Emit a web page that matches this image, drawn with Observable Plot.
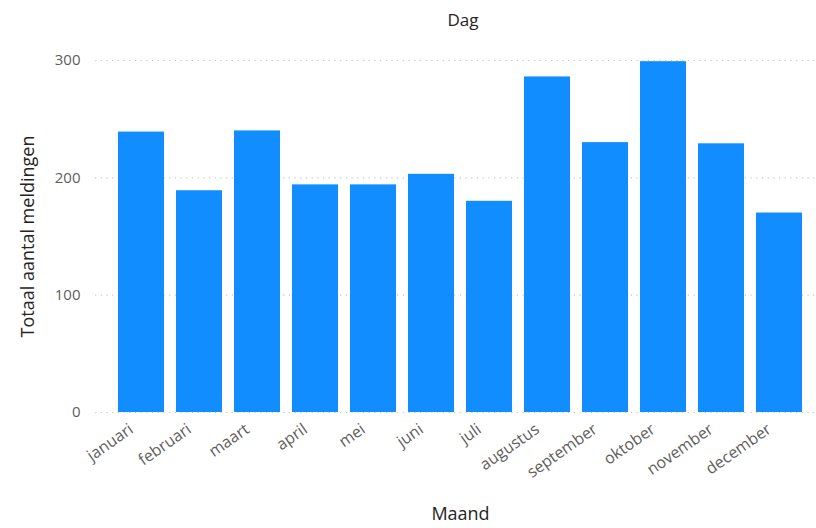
<!DOCTYPE html>
<html>
<head>
<meta charset="utf-8">
<script src="https://cdn.jsdelivr.net/npm/d3@7"></script>
<script src="https://cdn.jsdelivr.net/npm/@observablehq/plot@0.6"></script>
<style>
  html, body { margin: 0; padding: 0; background: #fff; }
  body { width: 816px; height: 528px; overflow: hidden; font-family: "Open Sans", "Segoe UI", sans-serif; }
  #title { height: 40px; width: 816px; position: relative; }
  #title span { position: absolute; left: 463px; top: 8px; transform: translateX(-50%); font-size: 17px; color: #252423; }
</style>
</head>
<body>
<div id="title"><span>Dag</span></div>
<div id="chart"></div>
<script>
const months = ["januari","februari","maart","april","mei","juni","juli","augustus","september","oktober","november","december"];
const counts = [239, 189, 240, 194, 194, 203, 180, 286, 230, 299, 229, 170];
const yTicks = [0, 100, 200, 300];
const yLabel = "Totaal aantal meldingen";
const xLabel = "Maand";

const data = months.map((m, i) => ({maand: m, aantal: counts[i]}));

const chart = Plot.plot({
  width: 816,
  height: 488,
  marginTop: 20,
  marginBottom: 116,
  marginLeft: 106,
  marginRight: 2,
  style: {fontFamily: "'Open Sans', 'Segoe UI', sans-serif", background: "#fff", overflow: "visible"},
  x: {domain: months, padding: 0.2, label: null},
  y: {domain: [0, 300], label: null},
  marks: [
    Plot.ruleY(yTicks, {stroke: "#c8c6c4", strokeWidth: 1.2, strokeDasharray: "1.2,4.5", insetLeft: -11, insetRight: -2}),
    Plot.barY(data, {x: "maand", y: "aantal", fill: "#118DFF"}),
    Plot.axisY(yTicks, {tickSize: 0, tickPadding: 26, fontSize: 15, fill: "#605E5C", label: null}),
    Plot.axisX({tickSize: 0, tickPadding: 15, tickRotate: -35, dx: -10, fontSize: 16, fill: "#605E5C", label: null}),
    Plot.text([yLabel], {frameAnchor: "left", textAnchor: "middle", dx: -78, rotate: -90, fontSize: 18, fill: "#252423"}),
    Plot.text([xLabel], {frameAnchor: "bottom", dy: 107, fontSize: 18, fill: "#252423"})
  ]
});
document.getElementById("chart").appendChild(chart);
</script>
</body>
</html>
